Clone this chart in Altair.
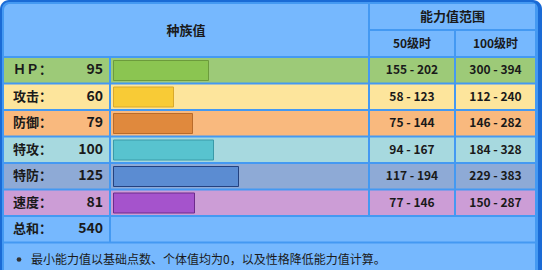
import altair as alt
import pandas as pd

# ---- data ----
stats = ["HP", "攻击", "防御", "特攻", "特防", "速度"]
labels = ["ＨＰ：", "攻击：", "防御：", "特攻：", "特防：", "速度："]
base = [95, 60, 79, 100, 125, 81]
total_label = "总和："
total = 540
lv50 = ["155 - 202", "58 - 123", "75 - 144", "94 - 167", "117 - 194", "77 - 146"]
lv100 = ["300 - 394", "112 - 240", "146 - 282", "184 - 328", "229 - 383", "150 - 287"]
title_left = "种族值"
title_right = "能力值范围"
col50 = "50级时"
col100 = "100级时"
note = "最小能力值以基础点数、个体值均为0，以及性格降低能力值计算。"

# ---- style ----
W, H = 542, 270
FONT = "Noto Sans CJK SC"
TXT = "#1a1a1a"
HEAD = "#76b8fe"
GRID = "#4499f2"
BORDER = "#1a6bd6"
row_bg = ["#9dca78", "#fde59c", "#f9b97e", "#a7d9df", "#8eaad6", "#cc9dd6"]
bar_fill = ["#8bc551", "#f8cb36", "#e0893d", "#58c3cf", "#5b8cd2", "#a553cc"]
bar_stroke = ["#6c9b3c", "#d9a92b", "#b96b2a", "#3a9aa8", "#23417f", "#6d2a8c"]

ROW0, STEP, RH = 58, 26.5, 24.5
X_LAB = (4, 109)
X_BAR = (111, 368)
X_50 = (370, 454)
X_100 = (456, 535)

cells = []
for i in range(len(stats)):
    t = ROW0 + i * STEP
    for a, b in (X_LAB, X_BAR, X_50, X_100):
        cells.append(dict(x=a, x2=b, y=t, y2=t + RH, fill=row_bg[i]))
t_tot = ROW0 + len(stats) * STEP
cells.append(dict(x=X_LAB[0], x2=X_LAB[1], y=t_tot, y2=t_tot + RH, fill=HEAD))
cells.append(dict(x=X_BAR[0], x2=X_100[1], y=t_tot, y2=t_tot + RH, fill=HEAD))
t_note = t_tot + STEP
cells.append(dict(x=X_LAB[0], x2=X_100[1], y=t_note, y2=H + 20, fill=HEAD))
cells.append(dict(x=X_50[0], x2=X_100[1], y=4, y2=29, fill=HEAD))
cells.append(dict(x=X_50[0], x2=X_50[1], y=31, y2=56, fill=HEAD))
cells.append(dict(x=X_100[0], x2=X_100[1], y=31, y2=56, fill=HEAD))
cells_df = pd.DataFrame(cells)

rows_df = pd.DataFrame({
    "stat": stats,
    "label": labels,
    "base": base,
    "lv50": lv50,
    "lv100": lv100,
    "fill": bar_fill,
    "stroke": bar_stroke,
    "cy": [ROW0 + i * STEP + RH / 2 for i in range(len(stats))],
    "by": [ROW0 + i * STEP + 2.5 for i in range(len(stats))],
    "by2": [ROW0 + i * STEP + RH - 2 for i in range(len(stats))],
})

def px(field):
    return alt.X(field, type="quantitative", scale=None, axis=None)

def py(field):
    return alt.Y(field, type="quantitative", scale=None, axis=None)

outer = alt.Chart(pd.DataFrame({"a": [0]})).mark_rect(
    fill=BORDER, cornerRadius=9
).encode(x=alt.value(0), x2=alt.value(W), y=alt.value(0), y2=alt.value(H + 30))

inner = alt.Chart(pd.DataFrame({"a": [0]})).mark_rect(
    fill=GRID, cornerRadius=7
).encode(x=alt.value(2), x2=alt.value(538), y=alt.value(2), y2=alt.value(H + 30))

head_left = alt.Chart(pd.DataFrame({"a": [0]})).mark_rect(
    fill=HEAD, cornerRadiusTopLeft=6
).encode(x=alt.value(X_LAB[0]), x2=alt.value(X_BAR[1]), y=alt.value(4), y2=alt.value(56))

cell_layer = alt.Chart(cells_df).mark_rect().encode(
    x=px("x"), x2="x2", y=py("y"), y2="y2",
    fill=alt.Fill("fill:N", scale=None),
)

bars = alt.Chart(rows_df).mark_rect(strokeWidth=1).encode(
    x=alt.X("base:Q", scale=alt.Scale(domain=[0, 255], range=[113.5, 368.5]), axis=None),
    x2=alt.value(113.5),
    y=py("by"), y2="by2",
    fill=alt.Fill("fill:N", scale=None),
    stroke=alt.Stroke("stroke:N", scale=None),
)

head_df = pd.DataFrame({
    "t": [title_left, title_right],
    "x": [(X_LAB[0] + X_BAR[1]) / 2, (X_50[0] + X_100[1]) / 2],
    "y": [31, 17],
})
head_txt = alt.Chart(head_df).mark_text(
    font=FONT, fontSize=13, fontWeight="bold", color=TXT, baseline="middle", align="center"
).encode(x=px("x"), y=py("y"), text="t:N")

sub_df = pd.DataFrame({
    "t": [col50, col100],
    "x": [(X_50[0] + X_50[1]) / 2, (X_100[0] + X_100[1]) / 2],
    "y": [44, 44],
})
sub_txt = alt.Chart(sub_df).mark_text(
    font=FONT, fontSize=12, fontWeight="bold", color=TXT, baseline="middle", align="center"
).encode(x=px("x"), y=py("y"), text="t:N")

lab_df = pd.DataFrame({
    "t": labels + [total_label],
    "v": [str(b) for b in base] + [str(total)],
    "y": list(rows_df["cy"]) + [t_tot + RH / 2],
})
lab_txt = alt.Chart(lab_df).mark_text(
    font=FONT, fontSize=13, fontWeight="bold", color=TXT, baseline="middle", align="left"
).encode(x=alt.value(13), y=py("y"), text="t:N")
val_txt = alt.Chart(lab_df).mark_text(
    font=FONT, fontSize=14, fontWeight="bold", color=TXT, baseline="middle", align="right"
).encode(x=alt.value(103), y=py("y"), text="v:N")

r50 = alt.Chart(rows_df).mark_text(
    font=FONT, fontSize=12, fontWeight="bold", color=TXT, baseline="middle", align="center"
).encode(x=alt.value((X_50[0] + X_50[1]) / 2), y=py("cy"), text="lv50:N")
r100 = alt.Chart(rows_df).mark_text(
    font=FONT, fontSize=12, fontWeight="bold", color=TXT, baseline="middle", align="center"
).encode(x=alt.value((X_100[0] + X_100[1]) / 2), y=py("cy"), text="lv100:N")

note_df = pd.DataFrame({"t": [note], "y": [t_note + 16]})
note_txt = alt.Chart(note_df).mark_text(
    font=FONT, fontSize=12, color=TXT, baseline="middle", align="left"
).encode(x=alt.value(31), y=py("y"), text="t:N")
bullet = alt.Chart(note_df).mark_point(
    filled=True, size=22, color="#333333", shape="circle", opacity=1
).encode(x=alt.value(19), y=py("y"))

chart = alt.layer(
    outer, inner, head_left, cell_layer, bars,
    head_txt, sub_txt, lab_txt, val_txt, r50, r100, note_txt, bullet,
).resolve_scale(x="independent", y="independent").properties(
    width=W, height=H, padding=0, background="white",
    autosize=alt.AutoSizeParams(type="none"),
).configure_view(stroke=None)

chart.save("out.html", embed_options={"renderer": "svg", "actions": False})
